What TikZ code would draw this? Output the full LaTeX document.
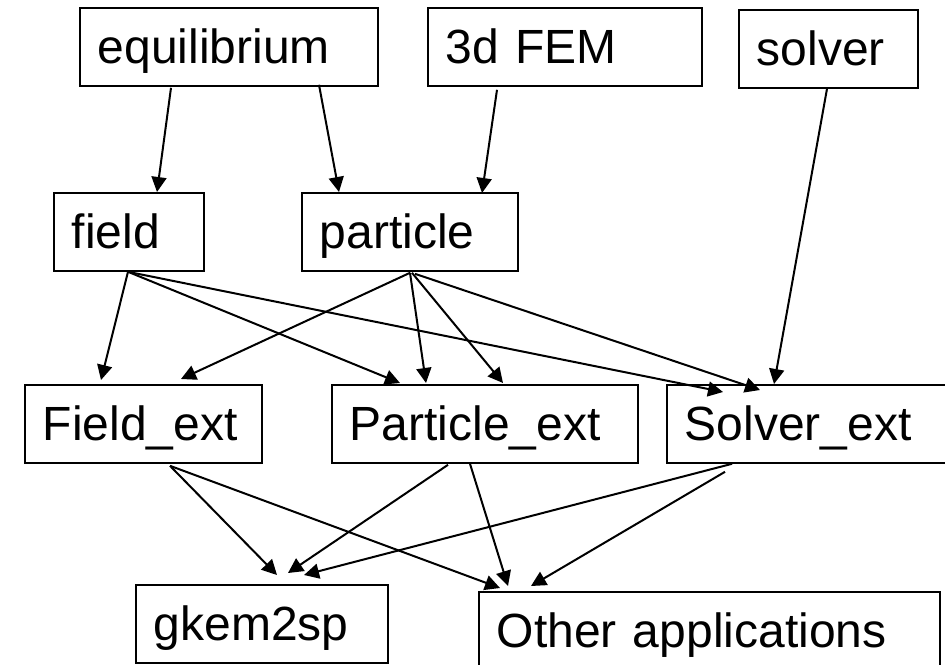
\documentclass[tikz,border=0pt]{standalone}
\usepackage{fontspec}
\setmainfont{Liberation Sans}
\usetikzlibrary{arrows.meta,calc}
\begin{document}
\begin{tikzpicture}[x=0.5pt,y=-0.5pt,
  box/.style={draw, line width=0.9pt, anchor=north west, align=left,
    inner xsep=9pt, inner ysep=0pt, text height=28pt, text depth=11pt,
    font=\fontsize{24pt}{28pt}\selectfont},
  link/.style={line width=1pt, -{Triangle[length=7.5pt,width=7.5pt]}}]
\useasboundingbox (0,0) rectangle (945,664);
% row 1
\node[box, text width=131pt] (eq) at (79,7) {equilibrium};
\node[box, text width=119pt] (fem) at (427,7) {3d FEM};
\node[box, text width=71.5pt] (solver) at (738,9) {solver};
% row 2
\node[box, text width=57pt] (field) at (53,192) {field};
\node[box, text width=90pt] (particle) at (301,192) {particle};
% row 3
\node[box, text width=100.5pt] (fext) at (24,384) {Field\_ext};
\node[box, text width=135pt] (pext) at (331,384) {Particle\_ext};
\node[box, text width=123pt] (sext) at (666,384) {Solver\_ext};
% row 4
\node[box, text width=108pt] (gkem) at (135,584) {gkem2sp};
\node[box, text width=212.5pt] (other) at (478,591) {Other applications};
% connectors
\draw[link] ($(eq.south west)+(92,1)$) -- ($(field.north west)+(104,0)$);
\draw[link] ($(eq.south west)+(240,-2)$) -- ($(particle.north west)+(38,0)$);
\draw[link] ($(fem.south west)+(70,3)$) -- ($(particle.north west)+(181,1)$);
\draw[link] ($(solver.south west)+(89,0)$) -- ($(sext.north west)+(108,0)$);
\draw[link] ($(field.south west)+(75,0)$) -- ($(fext.north west)+(77,-4)$);
\draw[link] ($(field.south west)+(75,0)$) -- ($(pext.north west)+(69,-1)$);
\draw[link] ($(field.south west)+(75,0)$) -- ($(sext.north west)+(57,8)$);
\draw[link] ($(particle.south west)+(109,1)$) -- ($(fext.north west)+(157,-5)$);
\draw[link] ($(particle.south west)+(109,1)$) -- ($(pext.north west)+(95,-1)$);
\draw[link] ($(particle.south west)+(111,1)$) -- ($(pext.north west)+(172,-1)$);
\draw[link] ($(particle.south west)+(114,2)$) -- ($(sext.north west)+(94,6)$);
\draw[link] ($(fext.south west)+(146,2)$) -- ($(gkem.north west)+(142,-9)$);
\draw[link] ($(fext.south west)+(146,2)$) -- ($(other.north west)+(22,-3)$);
\draw[link] ($(pext.south west)+(117,1)$) -- ($(gkem.north west)+(153,-11)$);
\draw[link] ($(pext.south west)+(139,0)$) -- ($(other.north west)+(30,-5)$);
\draw[link] ($(sext.south west)+(66,0)$) -- ($(gkem.north west)+(169,-9)$);
\draw[link] ($(sext.south west)+(59,8)$) -- ($(other.north west)+(53,-5)$);
\end{tikzpicture}
\end{document}
